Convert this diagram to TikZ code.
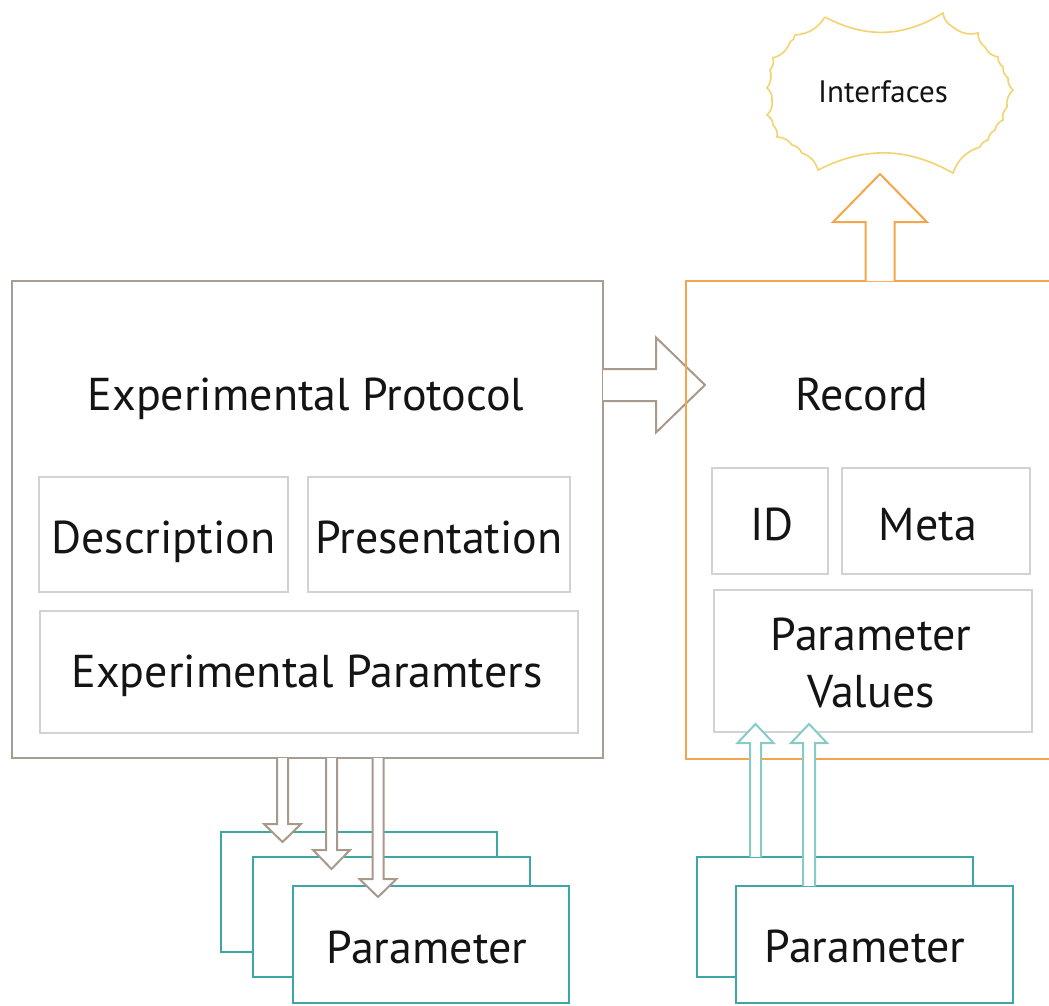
\documentclass[tikz,border=0pt]{standalone}
\usepackage{fontspec}
\setmainfont{PT Sans}
\usetikzlibrary{calc}
\definecolor{protocol}{HTML}{A89D93}
\definecolor{parrow}{HTML}{A8998B}
\definecolor{record}{HTML}{F6A54B}
\definecolor{cloud}{HTML}{F2D36E}
\definecolor{tealbox}{HTML}{3DA7A6}
\definecolor{tealarrow}{HTML}{86CBC6}
\definecolor{inner}{HTML}{D2D2D2}
\newcommand\bigtxt{\fontsize{46}{55}\selectfont}
% block arrow: #1 start, #2 tip, #3 shaft half width, #4 head half width, #5 head length, #6 colour
\newcommand\blockarrow[6]{%
  \coordinate (ba-h) at ($(#2)!#5!(#1)$);
  \fill[white] ($(#1)!#3!90:(#2)$) -- ($(ba-h)!#3!90:(#2)$) -- ($(ba-h)!#4!90:(#2)$) -- (#2)
     -- ($(ba-h)!#4!-90:(#2)$) -- ($(ba-h)!#3!-90:(#2)$) -- ($(#1)!#3!-90:(#2)$) -- cycle;
  \draw[#6, line width=2pt, line join=miter] ($(#1)!#3!90:(#2)$) -- ($(ba-h)!#3!90:(#2)$) -- ($(ba-h)!#4!90:(#2)$) -- (#2)
     -- ($(ba-h)!#4!-90:(#2)$) -- ($(ba-h)!#3!-90:(#2)$) -- ($(#1)!#3!-90:(#2)$);
}
\tikzset{
  box/.style={draw=#1, rectangle, outer sep=0pt, inner sep=0pt, anchor=north west},
  pbox/.style={box=protocol, line width=2pt},
  rbox/.style={box=record, line width=2pt},
  ibox/.style={box=inner, line width=1.3pt},
  tbox/.style={box=tealbox, line width=2pt, fill=white},
  lbl/.style={anchor=base, inner sep=0pt, font=\bigtxt, text=black!92},
  sc/.style={bend right=26},
}
\begin{document}
\begin{tikzpicture}[x=1pt,y=-1pt]
\useasboundingbox (0,0) rectangle (1049,1005);

% main boxes
\node[pbox, minimum width=591pt, minimum height=477pt] (proto) at (12,281) {};
\node[ibox, minimum width=249pt, minimum height=115pt] (desc) at (39,477) {};
\node[ibox, minimum width=262pt, minimum height=115pt] (pres) at (308,477) {};
\node[ibox, minimum width=538pt, minimum height=122pt] (eparams) at (40,611) {};

% arrow protocol -> record
\coordinate (ra-s) at (proto.east |- 0,385);
\coordinate (ra-e) at (705,385);
\blockarrow{ra-s}{ra-e}{16pt}{47.5pt}{49pt}{parrow}

\node[rbox, minimum width=400pt, minimum height=478pt] (record) at (686,281) {};
\node[ibox, minimum width=116pt, minimum height=106pt] (id) at (712,468) {};
\node[ibox, minimum width=188pt, minimum height=106pt] (meta) at (842,468) {};
\node[ibox, minimum width=318pt, minimum height=142pt] (pvals) at (714,590) {};

% labels
\node[lbl] (tproto) at (306,410) {Experimental Protocol};
\node[lbl] (tdesc) at (163.5,553) {Description};
\node[lbl] (tpres) at (439,553) {Presentation};
\node[lbl] (teparams) at (307,687) {Experimental Paramters};
\node[lbl] (trecord) at (862,410) {Record};
\node[lbl] (tid) at (772,540) {ID};
\node[lbl] (tmeta) at (928,540) {Meta};
\node[lbl] (tpv1) at (871,650) {Parameter};
\node[lbl] (tpv2) at (871,707) {Values};

% interfaces cloud
\draw[cloud, line width=1.6pt, line join=miter]
  (825,17) to[bend right=30] (943,13)
  to[sc] (953,27)
  to[sc] (978,33)
  to[sc] (985,47)
  to[sc] (998,57)
  to[sc] (1003,67)
  to[sc] (1008,78)
  to[sc] (1013,90)
  to[sc] (1007,107)
  to[sc] (1003,120)
  to[sc] (995,130)
  to[sc] (988,140)
  to[sc] (980,147)
  to[sc] (953,173)
  to[bend right=28] (818,170)
  to[sc] (802,153)
  to[sc] (792,145)
  to[sc] (777,137)
  to[sc] (773,125)
  to[sc] (767,115)
  to[sc] (772,100)
  to[sc] (767,88)
  to[sc] (770,70)
  to[sc] (773,58)
  to[sc] (790,42)
  to[sc] (795,35)
  to[sc] (825,17);
\node[anchor=base, inner sep=0pt, font=\fontsize{31}{37}\selectfont, text=black!92] (interfaces) at (883,102) {Interfaces};

% arrow record -> interfaces
\coordinate (ua-s) at (880,281);
\coordinate (ua-e) at (880,174);
\blockarrow{ua-s}{ua-e}{14.5pt}{47pt}{48pt}{record}

% left parameter stack
\node[tbox, minimum width=276pt, minimum height=120pt] (lp1) at (221,832) {};
\node[tbox, minimum width=277pt, minimum height=120pt] (lp2) at (253,857) {};
\node[tbox, minimum width=276pt, minimum height=117pt] (lp3) at (293,886) {};
\node[lbl] (tlp) at (427,963) {Parameter};

\coordinate (d1s) at (282.5,758);
\coordinate (d1e) at (282.5,842);
\coordinate (d2s) at (331.5,758);
\coordinate (d2e) at (331.5,869);
\coordinate (d3s) at (378,758);
\coordinate (d3e) at (378,897);
\blockarrow{d1s}{d1e}{5.5pt}{18.5pt}{18pt}{parrow}
\blockarrow{d2s}{d2e}{5.5pt}{18.5pt}{19pt}{parrow}
\blockarrow{d3s}{d3e}{5.5pt}{18.5pt}{18pt}{parrow}

% right parameter stack
\node[tbox, minimum width=276pt, minimum height=120pt] (rp1) at (697,857) {};
\node[tbox, minimum width=277pt, minimum height=117pt] (rp2) at (736,886) {};
\node[lbl] (trp) at (865,962) {Parameter};

\coordinate (u1s) at (755.5,857);
\coordinate (u1e) at (755.5,724);
\coordinate (u2s) at (809,886);
\coordinate (u2e) at (809,724);
\blockarrow{u1s}{u1e}{5.5pt}{18pt}{19pt}{tealarrow}
\blockarrow{u2s}{u2e}{6pt}{18pt}{19pt}{tealarrow}
\end{tikzpicture}
\end{document}
